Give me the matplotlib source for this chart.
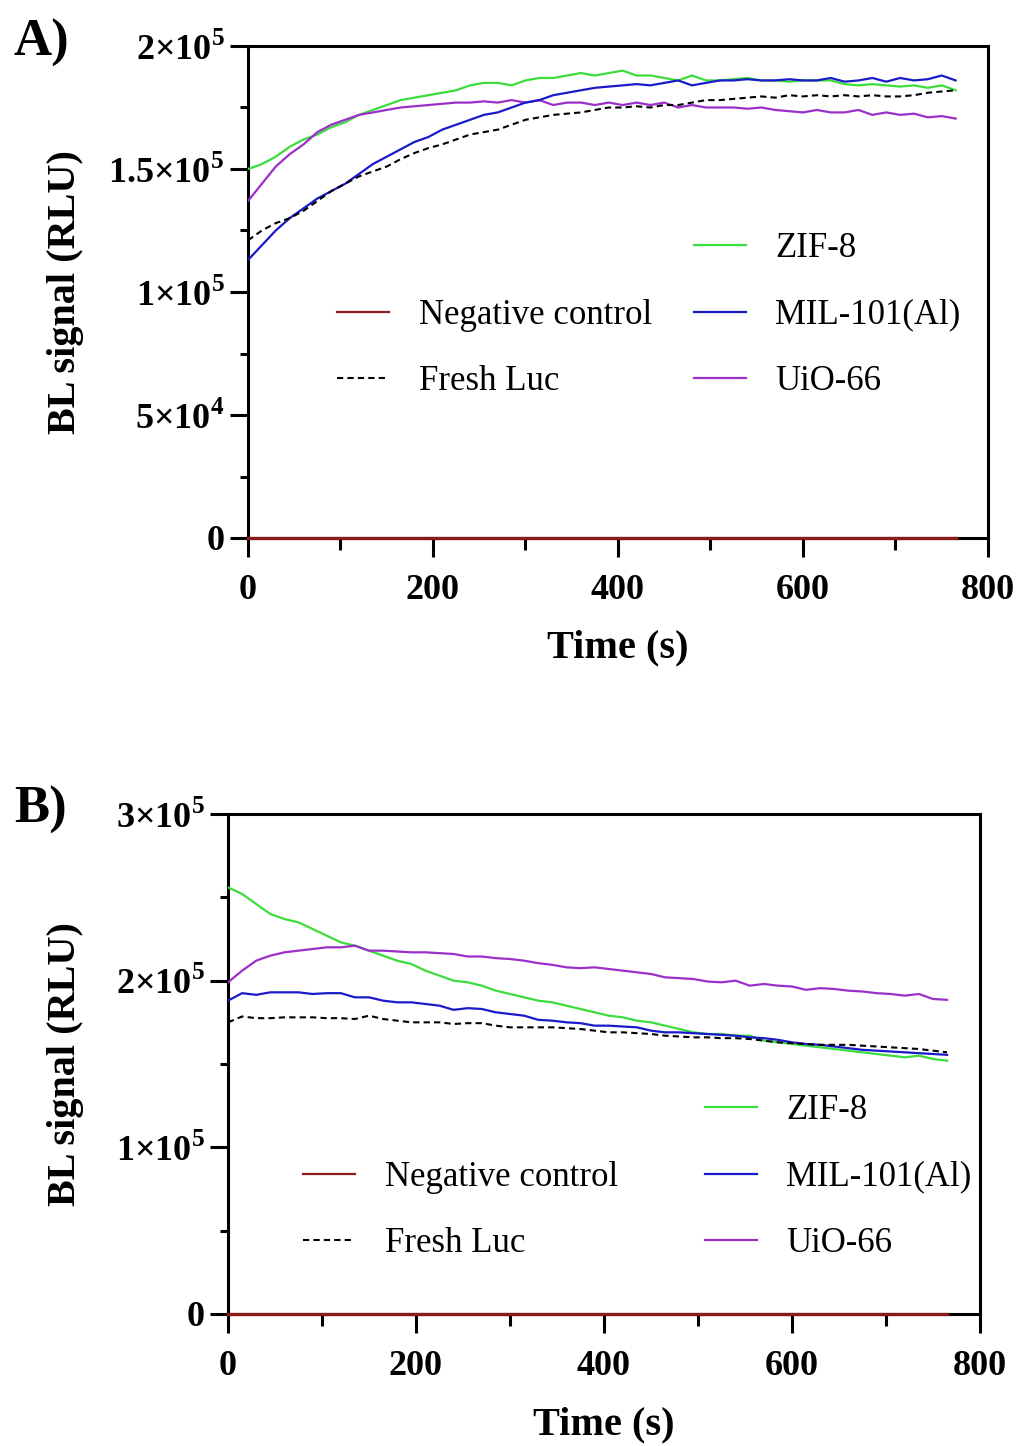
import matplotlib
matplotlib.use("Agg")
import matplotlib.pyplot as plt
from matplotlib.lines import Line2D
import numpy as np

plt.rcParams['font.family'] = ['Liberation Serif', 'DejaVu Serif']
plt.rcParams['mathtext.fontset'] = 'custom'
plt.rcParams['mathtext.rm'] = 'Liberation Serif'
plt.rcParams['mathtext.bf'] = 'Liberation Serif:bold'

# time axis (s)
time_s = list(range(0, 766, 15))

# Panel A values (RLU x 1e3)
a_zif8 = [150, 152, 155, 159, 162, 164, 167, 169, 172, 174, 176, 178, 179, 180, 181, 182,
          184, 185, 185, 184, 186, 187, 187, 188, 189, 188, 189, 190, 188, 188, 187, 186,
          188, 186, 186, 186.5, 187, 186, 186, 185.5, 186, 186, 186, 184.5, 184, 184.5,
          184, 183.5, 184, 183, 184, 182]
a_uio66 = [137, 144, 151, 156, 160, 165, 168, 170, 172, 173, 174, 175, 175.5, 176, 176.5,
           177, 177, 177.5, 177, 178, 177, 178, 176, 177, 177, 176, 177, 176, 177, 176, 177,
           175, 176, 175, 175, 175, 174.5, 175, 174, 173.5, 173, 174, 173, 173, 174, 172,
           173, 172, 172.5, 171, 171.5, 170.5]
a_mil101 = [113, 119, 125, 130, 134, 138, 141, 144, 148, 152, 155, 158, 161, 163, 166, 168,
            170, 172, 173, 175, 177, 178, 180, 181, 182, 183, 183.5, 184, 184.5, 184, 185,
            186, 184, 185, 186, 186, 186.5, 186, 186, 186.5, 186, 186, 187, 185.5, 186, 187,
            185.5, 187, 186, 186.5, 188, 186]
a_fresh = [121, 125, 128, 130, 133, 137, 141, 144, 147, 149, 151, 154, 156.5, 158.5, 160,
           162, 164, 165, 166, 168, 170, 171, 172, 172.5, 173, 174, 175, 175, 175.5, 175,
           176, 176, 177, 178, 178, 178.5, 179, 179.5, 179, 180, 179.5, 180, 179.5, 180,
           179.5, 180, 179.5, 179.5, 180, 181, 181.5, 182]
a_neg = [0] * 52

# Panel B values (RLU x 1e3)
b_zif8 = [256, 252, 246, 240, 237, 235, 231, 227, 223, 221, 218, 215, 212, 210, 206, 203,
          200, 199, 197, 194, 192, 190, 188, 187, 185, 183, 181, 179, 178, 176, 175, 173,
          171, 169, 168, 168, 167, 167, 164, 163, 162, 161, 160, 159, 158, 157, 156, 155,
          154, 155, 153, 152]
b_uio66 = [199, 206, 212, 215, 217, 218, 219, 220, 220, 221, 218, 218, 217.5, 217, 217,
           216.5, 216, 214.5, 214.5, 213.5, 213, 212, 210.5, 209.5, 208, 207.5, 208, 207,
           206, 205, 204, 202, 201.5, 201, 199.5, 199, 200, 197, 198, 197, 196.5, 194.5,
           195.5, 195, 194, 193.5, 192.5, 192, 191, 192, 189, 188.5]
b_mil101 = [188, 192.5, 191.5, 193, 193, 193, 192, 192.5, 192.5, 190, 190, 188, 187, 187,
            186, 185, 182.5, 183.5, 183, 181, 180, 179, 176.5, 176, 175, 174.5, 173, 173,
            172.5, 172, 170, 169, 169, 168.5, 168, 167.5, 167, 166, 165.5, 164.5, 163, 162,
            161.5, 160.5, 159.5, 158.5, 158, 157.5, 157, 156.5, 156, 155.5]
b_fresh = [175, 178.5, 177.5, 177.5, 178, 178, 178, 177.5, 177.5, 177, 179, 177, 176, 175,
           175, 175, 174, 174.5, 174.5, 173, 172, 172, 172, 172, 171.5, 171, 170, 169, 169,
           168.5, 168, 167, 166.5, 166, 166, 165.5, 165.5, 165, 164, 163, 162.5, 162, 161.5,
           161.5, 161.5, 161, 160.5, 160, 159.5, 159, 158, 157]
b_neg = [0] * 52

labels = ["Negative control", "Fresh Luc", "ZIF-8", "MIL-101(Al)", "UiO-66"]
a_yticks = [0, 5e4, 1e5, 1.5e5, 2e5]
a_yticklabels = ["0", "5×10$^{\\mathbf{4}}$", "1×10$^{\\mathbf{5}}$",
                 "1.5×10$^{\\mathbf{5}}$", "2×10$^{\\mathbf{5}}$"]
b_yticks = [0, 1e5, 2e5, 3e5]
b_yticklabels = ["0", "1×10$^{\\mathbf{5}}$", "2×10$^{\\mathbf{5}}$", "3×10$^{\\mathbf{5}}$"]
xticks = [0, 200, 400, 600, 800]

C_NEG = '#8b1a1a'
C_ZIF = '#3ddc3d'
C_MIL = '#1a1ac8'
C_UIO = '#9a30c8'

fig = plt.figure(figsize=(10.2, 14.46), dpi=100)
axA = fig.add_axes([248/1020, 1-538/1446, 740/1020, 492/1446])
axB = fig.add_axes([228/1020, 1-1314/1446, 752/1020, 500/1446])


def draw(ax, neg, fresh, zif, mil, uio, ymax, yticks, yticklabels, yminor, leg_anchor,
         ylab_x, colspace):
    t = np.array(time_s)
    k = 1e3
    ax.plot(t, np.array(zif) * k, color=C_ZIF, lw=1.6, zorder=3)
    ax.plot(t, np.array(uio) * k, color=C_UIO, lw=1.6, zorder=3)
    ax.plot(t, np.array(mil) * k, color=C_MIL, lw=1.6, zorder=3)
    ax.plot(t, np.array(fresh) * k, color='black', lw=1.5, dashes=(3, 2), zorder=3)
    ax.plot(t, np.array(neg) * k, color=C_NEG, lw=2.4, zorder=4, clip_on=False)
    ax.set_xlim(0, 800)
    ax.set_ylim(0, ymax)
    ax.set_xticks(xticks)
    ax.set_xticklabels([str(v) for v in xticks])
    ax.set_xticks([100, 300, 500, 700], minor=True)
    ax.set_yticks(yticks)
    ax.set_yticklabels(yticklabels)
    ax.set_yticks(yminor, minor=True)
    for s in ax.spines.values():
        s.set_linewidth(2.2)
    ax.tick_params(axis='x', which='major', direction='out', length=14, width=2.2, pad=12)
    ax.tick_params(axis='x', which='minor', direction='out', length=8.5, width=2.2)
    ax.tick_params(axis='y', which='major', direction='out', length=13, width=2.2, pad=4)
    ax.tick_params(axis='y', which='minor', direction='out', length=6, width=2.2)
    for lab in ax.get_xticklabels() + ax.get_yticklabels():
        lab.set_fontsize(26)
        lab.set_fontweight('bold')
    ax.set_xlabel("Time (s)", fontsize=29, fontweight='bold')
    ax.set_ylabel("BL signal (RLU)", fontsize=29, fontweight='bold')
    ax.xaxis.set_label_coords(0.5, -0.185)
    ax.yaxis.set_label_coords(ylab_x, 0.5)

    blank = Line2D([], [], alpha=0)
    handles = [blank,
               Line2D([], [], color=C_NEG, lw=1.6),
               Line2D([], [], color='black', lw=1.5, dashes=(3, 2)),
               Line2D([], [], color=C_ZIF, lw=1.6),
               Line2D([], [], color=C_MIL, lw=1.6),
               Line2D([], [], color=C_UIO, lw=1.6)]
    leg_labels = [""] + labels[:2] + labels[2:]
    fig.legend(handles, leg_labels, ncol=2, frameon=False, fontsize=25,
               loc='upper left', bbox_to_anchor=leg_anchor, borderpad=0,
               handlelength=1.5, handletextpad=0.85, columnspacing=colspace,
               labelspacing=0.97, borderaxespad=0)


draw(axA, a_neg, a_fresh, a_zif8, a_mil101, a_uio66, 2e5, a_yticks, a_yticklabels,
     [2.5e4, 7.5e4, 1.25e5, 1.75e5], (337/1020, 1-232/1446), (84-248)/740, 1.2)
draw(axB, b_neg, b_fresh, b_zif8, b_mil101, b_uio66, 3e5, b_yticks, b_yticklabels,
     [5e4, 1.5e5, 2.5e5], (303/1020, 1-1094/1446), (84-228)/752, 2.5)

fig.text(14/1020, 1-56/1446, "A)", fontsize=38, fontweight='bold', ha='left', va='baseline')
fig.text(14/1020, 1-823/1446, "B)", fontsize=38, fontweight='bold', ha='left', va='baseline')

fig.savefig("out.png", dpi=100)
